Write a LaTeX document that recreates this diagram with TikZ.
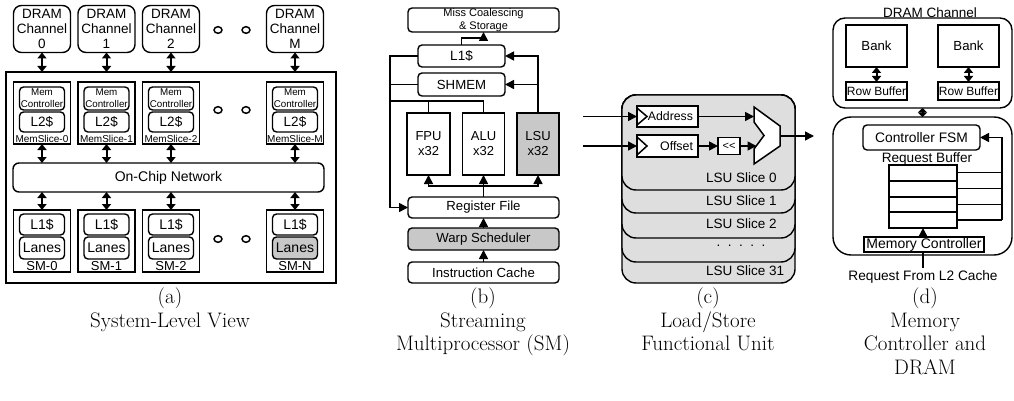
\documentclass[tikz,border=0pt]{standalone}
\usepackage{fontspec}
\usetikzlibrary{arrows.meta}
\newfontfamily\arial{Liberation Sans}
\newcommand\myfs[2]{\fontsize{#1}{#2}\selectfont}
\definecolor{dgray}{RGB}{200,200,200}
\definecolor{lgray}{RGB}{222,222,222}
\begin{document}
\begin{tikzpicture}[x=1pt,y=-1pt,
 every node/.style={inner sep=0pt, outer sep=0pt},
 bx/.style={draw, line width=1.4pt, font=\arial\myfs{13.5}{15}, align=center},
 rbx/.style={bx, rounded corners=4pt},
 lbl/.style={font=\arial\myfs{13.5}{15}, align=center},
 bidir/.style={{Triangle[length=6pt,width=9pt]}-{Triangle[length=6pt,width=9pt]}, line width=2pt},
 sbidir/.style={{Triangle[length=4.5pt,width=9pt]}-{Triangle[length=4.5pt,width=9pt]}, line width=2pt},
 arr/.style={-{Triangle[length=9pt,width=9pt]}, line width=1.5pt},
 ln/.style={line width=1.5pt},
 slice/.style={draw, line width=1.4pt, fill=lgray, rounded corners=14pt, minimum width=173},
 capt/.style={font=\myfs{21}{23.5}, align=center, anchor=north}
]
\path[use as bounding box] (0,0) rectangle (1014,401);

% ---------------- (a) ----------------
\node[draw, line width=1.4pt, minimum width=330, minimum height=211] (chip) at (171,177.5) {};
\node[bx, rounded corners=6pt, minimum width=311, minimum height=29, font=\arial\myfs{14}{15}] (net) at (168.5,177.5) {On-Chip Network};
\foreach \n/\x/\s/\f in {0/42/0/white,1/106.5/1/white,2/171/2/white,M/295/N/dgray}{
 \node[bx, rounded corners=8pt, minimum width=57, minimum height=47] (dram\n) at (\x,29) {DRAM\\Channel\\\n};
 \node[bx, minimum width=57, minimum height=62] (ms\n) at (\x,113) {};
 \node[rbx, font=\arial\myfs{9.8}{12}, minimum width=45, minimum height=23] (mc\n) at (\x,98.5) {Mem\\Controller};
 \node[rbx, font=\arial\myfs{13.5}{15}, minimum width=45, minimum height=20] (l2\n) at (\x,122) {L2\$};
 \node[font=\arial\myfs{10}{11}] (msl\n) at (\x,139) {MemSlice-\n};
 \node[bx, minimum width=57, minimum height=62] (sm\n) at (\x,241) {};
 \node[rbx, font=\arial\myfs{14}{15}, minimum width=45, minimum height=21] (l1\n) at (\x,224.5) {L1\$};
 \node[rbx, fill=\f, font=\arial\myfs{14}{15}, minimum width=45, minimum height=22] (lane\n) at (\x,248) {Lanes};
 \node[font=\arial\myfs{13}{14}] (sml\n) at (\x,266) {SM-\s};
 \draw[bidir] (dram\n.south) -- (dram\n.south |- chip.north);
 \draw[bidir] (ms\n.south) -- (ms\n.south |- net.north);
 \draw[bidir] (net.south -| sm\n.north) -- (sm\n.north);
}
\foreach \y in {30,110,239}{
 \draw[ln] (218,\y) ellipse [x radius=4, y radius=3.3];
 \draw[ln] (246,\y) ellipse [x radius=4, y radius=3.3];
}

% ---------------- (b) ----------------
\node[rbx, font=\arial\myfs{11}{12.5}, minimum width=151, minimum height=24] (miss) at (483.5,20) {Miss Coalescing\\\& Storage};
\node[rbx, minimum width=87, minimum height=22] (l1) at (461.5,56) {L1\$};
\node[rbx, font=\arial\myfs{13.2}{15}, minimum width=87, minimum height=23] (shm) at (461.5,84.5) {SHMEM};
\node[bx, font=\arial\myfs{13}{15}, minimum width=43, minimum height=62] (fpu) at (428.5,144) {FPU\\x32};
\node[bx, font=\arial\myfs{13}{15}, minimum width=42, minimum height=62] (alu) at (483.5,144) {ALU\\x32};
\node[bx, font=\arial\myfs{13}{15}, fill=dgray, minimum width=42, minimum height=62] (lsu) at (538,144) {LSU\\x32};
\node[rbx, font=\arial\myfs{13.2}{15}, minimum width=151, minimum height=21] (rf) at (483.5,207.5) {Register File};
\node[rbx, font=\arial\myfs{13.2}{15}, fill=dgray, minimum width=151, minimum height=22] (ws) at (483.5,239) {Warp Scheduler};
\node[rbx, font=\arial\myfs{13.2}{15}, minimum width=151, minimum height=21] (ic) at (483.5,272.5) {Instruction Cache};
\coordinate (bt) at (390,56);
\coordinate (bb) at (390,207.5);
\coordinate (fb) at (390,101);
\coordinate (rb) at (483.5,186);
\draw[arr] (l1.north) -- ++(0,-7) -| (miss.south);
\draw[arr] (l1.west) -- (bt) -- (bb) -- (rf.west);
\draw[ln] (shm.west) -- (shm.west -| bt);
\draw[ln] (fb) -| (alu.north);
\draw[ln] (fpu.north) -- (fpu.north |- fb);
\draw[arr] (lsu.north) |- (l1.east);
\draw[arr] (lsu.north |- shm.east) -- (shm.east);
\draw[ln] (rf.north) -- (rb);
\draw[arr] (rb) -| (fpu.south);
\draw[arr] (rb) -| (lsu.south);
\draw[arr] (rb) -- (alu.south);
\draw[arr] (ws.north) -- (rf.south);
\draw[arr] (ic.north) -- (ws.south);

% ---------------- (c) ----------------
\node[slice, minimum height=188] (s31) at (708.5,189) {};
\node[slice, minimum height=167] (s4) at (708.5,178.5) {};
\node[slice, minimum height=143] (s2) at (708.5,166.5) {};
\node[slice, minimum height=118] (s1) at (708.5,154) {};
\node[slice, minimum height=95] (s0) at (708.5,142.5) {};
\node[lbl, anchor=west] (t0) at (706,178) {LSU Slice 0};
\node[lbl, anchor=west] (t1) at (706,201) {LSU Slice 1};
\node[lbl, anchor=west] (t2) at (706,224) {LSU Slice 2};
\node[lbl] (t4) at (741,246) {.\ \ .\ \ .\ \ .\ \ .};
\node[lbl, anchor=west] (t31) at (706,271) {LSU Slice 31};
\node[draw, line width=1.4pt, fill=white, minimum width=61, minimum height=21] (addr) at (667.5,116.5) {};
\node[draw, line width=1.4pt, fill=white, minimum width=61, minimum height=22] (off) at (667.5,146) {};
\node[font=\arial\myfs{12.3}{14}, anchor=east] (addrt) at (693,116.5) {Address};
\node[font=\arial\myfs{12.4}{14}, anchor=east] (offt) at (693,146) {Offset};
\draw[ln] (637,108) -- (647,116.5) -- (637,125);
\draw[ln] (637,137) -- (647,146) -- (637,155);
\node[draw, line width=1.4pt, fill=white, font=\arial\myfs{11}{12}, minimum width=22, minimum height=17] (shl) at (729,146) {<<};
\draw[ln, fill=white] (754,107) -- (780,126) -- (780,146) -- (754,164) -- (754,149) -- (764,135.5) -- (754,122) -- cycle;
\coordinate (inA) at (583,116.5);
\coordinate (inB) at (583,146);
\coordinate (muxA) at (754,116.5);
\coordinate (muxB) at (756.5,146);
\coordinate (muxO) at (780,136);
\coordinate (outC) at (814,136);
\draw[arr] (inA) -- (addr.west);
\draw[arr] (inB) -- (off.west);
\draw[arr] (addr.east) -- (muxA);
\draw[arr] (off.east) -- (shl.west);
\draw[arr] (shl.east) -- (muxB);
\draw[arr] (muxO) -- (outC);

% ---------------- (d) ----------------
\node[lbl] (dcl) at (930,13) {DRAM Channel};
\node[draw, line width=1.4pt, rounded corners=12pt, minimum width=179, minimum height=90] (dch) at (922.5,63) {};
\node[bx, font=\arial\myfs{13.2}{15}, minimum width=61, minimum height=42] (bk1) at (876.5,46) {Bank};
\node[bx, font=\arial\myfs{13.2}{15}, minimum width=61, minimum height=42] (bk2) at (968.5,46) {Bank};
\node[bx, font=\arial\myfs{12}{13}, minimum width=61, minimum height=18] (rb1) at (876.5,91) {Row Buffer};
\node[bx, font=\arial\myfs{12}{13}, minimum width=61, minimum height=18] (rb2) at (968.5,91) {Row Buffer};
\draw[bidir] (bk1.south) -- (rb1.north);
\draw[bidir] (bk2.south) -- (rb2.north);
\node[draw, line width=1.4pt, rounded corners=18pt, minimum width=179, minimum height=138] (ctl) at (922.5,186) {};
\draw[sbidir] (dch.south) -- (ctl.north);
\node[rbx, font=\arial\myfs{13.8}{15}, minimum width=117, minimum height=25] (fsm) at (921.5,137.5) {Controller FSM};
\node[lbl, font=\arial\myfs{13.6}{15}] (rbl) at (927,159) {Request Buffer};
\node[draw, line width=1.4pt, minimum width=68, minimum height=63] (tbl) at (923,196.5) {};
\foreach \y in {181,197,212}{ \draw[ln] (889,\y) -- (957,\y); }
\foreach \y in {172.5,188.5,204.5}{ \draw[ln] (957,\y) -- (1002,\y); }
\coordinate (fb1) at (1002,220);
\draw[ln] (957,220) -- (fb1);
\draw[arr] (fb1) |- (fsm.east);
\node[draw, line width=1.2pt, font=\arial\myfs{14}{15}, minimum width=120, minimum height=15] (mcd) at (924,244.5) {Memory Controller};
\draw[arr] (mcd.north -| tbl.south) -- (tbl.south);
\coordinate (req) at (923,268);
\draw[ln] (req) -- (req |- mcd.south);
\node[lbl, font=\arial\myfs{13.7}{15}] (reqt) at (923,277) {Request From L2 Cache};

% ---------------- captions ----------------
\node[capt] (ca) at (170,288) {(a)\\System-Level View};
\node[capt] (cb) at (483,288) {(b)\\Streaming\\Multiprocessor (SM)};
\node[capt] (cc) at (708,288) {(c)\\Load/Store\\Functional Unit};
\node[capt] (cd) at (925,288) {(d)\\Memory\\Controller and\\DRAM};
\end{tikzpicture}
\end{document}
